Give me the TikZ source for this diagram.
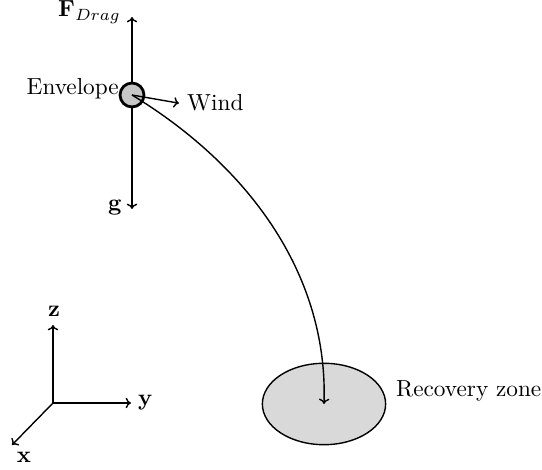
\documentclass[tikz,border=0pt]{standalone}
\usepackage{amsmath}
\usepackage{tikz}
\usetikzlibrary{arrows.meta,positioning,shapes.geometric}

\begin{document}
\begin{tikzpicture}[x=0.43pt,y=-0.43pt,
   arr/.style={-{To[length=2.3pt,width=4.5pt]},semithick},
   env/.style={circle,draw,very thick,fill=gray!45,minimum size=10.3pt,inner sep=0pt},
   zone/.style={ellipse,draw,semithick,fill=gray!30,minimum width=53pt,minimum height=35pt}]
  \useasboundingbox (0,0) rectangle (542,470);
  % balloon and forces
  \coordinate (c) at (132,95);
  \coordinate (top) at (132,17);
  \coordinate (bot) at (132,209);
  \draw[arr] (c) -- (top);
  \draw[arr] (c) -- (bot);
  \node[env] (env) at (c) {};
  \node[anchor=base east] (fdrag) at (129,17) {$\mathbf{F}_{Drag}$};
  \node[anchor=base east] (g) at (130,211) {$\mathbf{g}$};
  \node[anchor=base east] (envlbl) at (127,95) {Envelope};
  \node[anchor=base west] (wind) at (179,111) {Wind};
  \draw[arr] (env.center) -- (wind.west);
  % landing
  \node[zone] (zone) at (324,404) {};
  \node[anchor=base west] (zonelbl) at (388,397) {Recovery zone};
  \draw[arr] (env.center) .. controls (255,170) and (328,280) .. (zone.center);
  % axes
  \coordinate (o) at (53,403);
  \coordinate (zt) at (53,325);
  \coordinate (yt) at (131,403);
  \coordinate (xt) at (12,445);
  \node[anchor=base] (zl) at (54,317) {$\mathbf{z}$};
  \node[anchor=base west] (yl) at (130,406) {$\mathbf{y}$};
  \node[anchor=base] (xl) at (24,463) {$\mathbf{x}$};
  \draw[arr] (o) -- (zt);
  \draw[arr] (o) -- (yt);
  \draw[arr] (o) -- (xt);
\end{tikzpicture}
\end{document}
